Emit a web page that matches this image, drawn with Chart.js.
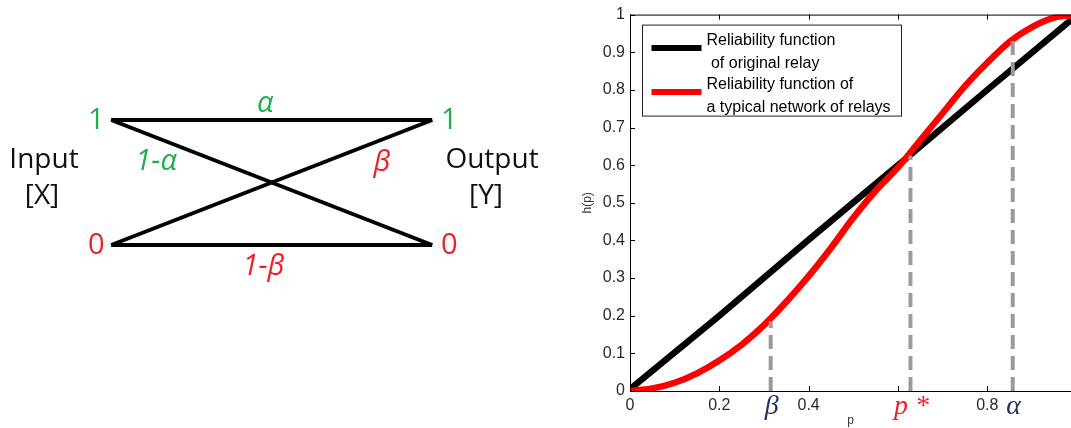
<!DOCTYPE html>
<html>
<head>
<meta charset="utf-8">
<script src="https://cdn.jsdelivr.net/npm/chart.js@4.4.1/dist/chart.umd.min.js"></script>
<style>
  body { margin: 0; background: #fff; }
  #wrap { position: relative; width: 1071px; height: 428px; overflow: hidden; }
  #diagram { position: absolute; left: 0; top: 0; }
  #myChart { position: absolute; left: 580px; top: 0; }
</style>
</head>
<body>
<div id="wrap">
  <canvas id="diagram" width="580" height="428"></canvas>
  <canvas id="myChart" width="491" height="428"></canvas>
</div>
<script>
// channel diagram (input state -> output state)
const inStates = [1, 0];
const outStates = [1, 0];
const edgeFrom = [1, 1, 0, 0];
const edgeTo = [1, 0, 1, 0];
const edgeLabels = ['α', '1-α', 'β', '1-β'];

// reliability functions
const pOriginal = [0, 0.2, 0.4, 0.6, 0.8, 1];
const hOriginal = [0.005, 0.2, 0.402, 0.6, 0.8, 0.998];
const pNetwork = [0, 0.05, 0.1, 0.15, 0.2, 0.25, 0.3, 0.35, 0.4, 0.45, 0.5, 0.55, 0.6, 0.65, 0.7, 0.75, 0.8, 0.85, 0.9, 0.95, 1];
const hNetwork = [0, 0.007, 0.022, 0.047, 0.081, 0.123, 0.175, 0.237, 0.305, 0.38, 0.46, 0.532, 0.594, 0.666, 0.738, 0.81, 0.872, 0.928, 0.967, 0.992, 1];
const seriesNames = [['Reliability function', ' of original relay'], ['Reliability function of', 'a typical network of relays']];

// marked points under the x axis
const markerNames = ['β', 'p*', 'α'];
const markerP = [0.315, 0.628, 0.857];
const markerH = [0.185, 0.625, 0.934];

const xTicks = [0, 0.2, 0.4, 0.6, 0.8];
const xTickLabels = ['0', '0.2', '0.4', '', '0.8'];
const yTicks = [0, 0.1, 0.2, 0.3, 0.4, 0.5, 0.6, 0.7, 0.8, 0.9, 1];
const yTickLabels = ['0', '0.1', '0.2', '0.3', '0.4', '0.5', '0.6', '0.7', '0.8', '0.9', '1'];

const GREEN = '#1fb04b';
const RED = '#f01f24';
const NAVY = '#1f3160';

// ---------- left: diagram ----------
const diagramText = {
  id: 'diagramText',
  afterDraw(chart) {
    const {ctx, scales: {x, y}} = chart;
    ctx.save();
    ctx.textAlign = 'center';
    ctx.textBaseline = 'middle';
    ctx.font = '29px "Open Sans"';
    inStates.forEach(s => {
      ctx.fillStyle = s === 1 ? GREEN : RED;
      ctx.fillText(String(s), x.getPixelForValue(0) - 15, y.getPixelForValue(s) + 1);
    });
    outStates.forEach(s => {
      ctx.fillStyle = s === 1 ? GREEN : RED;
      ctx.fillText(String(s), x.getPixelForValue(1) + 17, y.getPixelForValue(s) + 1);
    });
    ctx.fillStyle = '#111';
    ctx.font = '28px "Open Sans"';
    ctx.fillText('Input', 44, 160);
    ctx.fillText('[X]', 42, 196);
    ctx.fillText('Output', 492, 160);
    ctx.fillText('[Y]', 486, 196);

    // edge labels
    const spots = [[0.48, 1.13], [0.14, 0.665], [0.843, 0.655], [0.474, -0.17]];
    ctx.font = 'italic 29px "Open Sans"';
    edgeLabels.forEach((t, i) => {
      ctx.fillStyle = edgeFrom[i] === 1 ? GREEN : RED;
      ctx.fillText(t, x.getPixelForValue(spots[i][0]), y.getPixelForValue(spots[i][1]));
    });
    ctx.restore();
  }
};

new Chart(document.getElementById('diagram').getContext('2d'), {
  type: 'scatter',
  data: {
    datasets: edgeFrom.map((f, i) => ({
      data: [{x: 0, y: f}, {x: 1, y: edgeTo[i]}],
      showLine: true,
      borderColor: '#000',
      borderWidth: 4,
      pointRadius: 0
    }))
  },
  options: {
    responsive: false,
    animation: false,
    devicePixelRatio: 1,
    layout: {padding: 0},
    plugins: {legend: {display: false}, tooltip: {enabled: false}},
    scales: {
      x: {type: 'linear', min: -0.3464, max: 1.4604, display: false},
      y: {type: 'linear', min: -1.464, max: 1.96, display: false}
    }
  },
  plugins: [diagramText]
});

// ---------- right: reliability chart ----------
const extras = {
  id: 'extras',
  afterDraw(chart) {
    const {ctx, chartArea: a, scales: {x, y}} = chart;
    ctx.save();
    ctx.strokeStyle = '#000';
    ctx.lineWidth = 1;
    ctx.beginPath();
    ctx.moveTo(a.left, a.top + 0.5);
    ctx.lineTo(a.right, a.top + 0.5);
    xTicks.forEach(v => {
      const px = Math.round(x.getPixelForValue(v)) + 0.5;
      ctx.moveTo(px, a.bottom);
      ctx.lineTo(px, a.bottom - 5);
      ctx.moveTo(px, a.top);
      ctx.lineTo(px, a.top + 5);
    });
    yTicks.forEach(v => {
      const py = Math.round(y.getPixelForValue(v)) + 0.5;
      ctx.moveTo(a.left, py);
      ctx.lineTo(a.left + 5, py);
    });
    ctx.stroke();

    // marker labels
    ctx.textAlign = 'center';
    ctx.textBaseline = 'middle';
    ctx.font = 'italic 28px "Liberation Serif"';
    markerNames.forEach((t, i) => {
      ctx.fillStyle = t === 'p*' ? RED : NAVY;
      ctx.fillText(t === 'p*' ? 'p *' : t, x.getPixelForValue(markerP[i]) + 1, 407);
    });

    // legend: entries follow the legendIndex of each line
    const bx = a.left + 12.5, by = a.top + 10.5, bw = 259, bh = 91;
    ctx.fillStyle = '#fff';
    ctx.fillRect(bx, by, bw, bh);
    ctx.strokeStyle = '#222';
    ctx.lineWidth = 1;
    ctx.strokeRect(bx, by, bw, bh);
    ctx.textAlign = 'left';
    ctx.font = '16px "Liberation Sans"';
    chart.data.datasets.filter(d => d.legendIndex !== undefined).forEach(d => {
      const i = d.legendIndex;
      const ly = by + 23 + i * 44;
      ctx.strokeStyle = d.borderColor;
      ctx.lineWidth = 6;
      ctx.beginPath();
      ctx.moveTo(bx + 9, ly);
      ctx.lineTo(bx + 59, ly);
      ctx.stroke();
      ctx.fillStyle = '#000';
      ctx.fillText(seriesNames[i][0], bx + 64, ly - 8);
      ctx.fillText(seriesNames[i][1], bx + 64, ly + 15);
    });
    ctx.restore();
  }
};

const dashSets = markerP.map((p, i) => ({
  data: [{x: p, y: 0}, {x: p, y: markerH[i]}],
  showLine: true,
  borderColor: '#9a9a9a',
  borderWidth: 4,
  borderDash: [14, 7],
  pointRadius: 0,
  order: 0
}));

new Chart(document.getElementById('myChart').getContext('2d'), {
  type: 'scatter',
  data: {
    datasets: [
      ...dashSets,
      {
        legendIndex: 1,
        data: pNetwork.map((p, i) => ({x: p, y: hNetwork[i]})),
        showLine: true,
        borderColor: '#ff0000',
        borderWidth: 6.5,
        cubicInterpolationMode: 'monotone',
        pointRadius: 0,
        order: 1
      },
      {
        legendIndex: 0,
        data: pOriginal.map((p, i) => ({x: p, y: hOriginal[i]})),
        showLine: true,
        borderColor: '#000000',
        borderWidth: 6.5,
        pointRadius: 0,
        order: 2
      }
    ]
  },
  options: {
    responsive: false,
    animation: false,
    devicePixelRatio: 1,
    layout: {padding: {top: 13, left: 0, right: 0, bottom: 0}},
    plugins: {legend: {display: false}, tooltip: {enabled: false}},
    scales: {
      x: {
        type: 'linear',
        min: 0,
        max: 0.9875,
        grid: {display: false, drawTicks: false},
        border: {display: true, color: '#000', width: 1},
        afterBuildTicks: s => { s.ticks = xTicks.map(v => ({value: v})); },
        afterFit: s => { s.height = 37; },
        ticks: {
          padding: 5,
          color: '#2a2a2a',
          font: {family: '"Liberation Sans"', size: 16},
          maxRotation: 0,
          autoSkip: false,
          callback: (v, i) => xTickLabels[i]
        },
        title: {display: true, text: 'p', color: '#333', padding: 0, font: {family: '"Liberation Sans"', size: 12}}
      },
      y: {
        type: 'linear',
        min: 0,
        max: 1,
        grid: {display: false, drawTicks: false},
        border: {display: true, color: '#000', width: 1},
        afterBuildTicks: s => { s.ticks = yTicks.map(v => ({value: v})); },
        afterFit: s => { s.width = 50; },
        ticks: {
          padding: 5,
          color: '#2a2a2a',
          font: {family: '"Liberation Sans"', size: 16},
          autoSkip: false,
          callback: (v, i) => yTickLabels[i]
        },
        title: {display: true, text: 'h(p)', color: '#333', padding: 0, font: {family: '"Liberation Sans"', size: 12}}
      }
    }
  },
  plugins: [extras]
});
</script>
</body>
</html>
